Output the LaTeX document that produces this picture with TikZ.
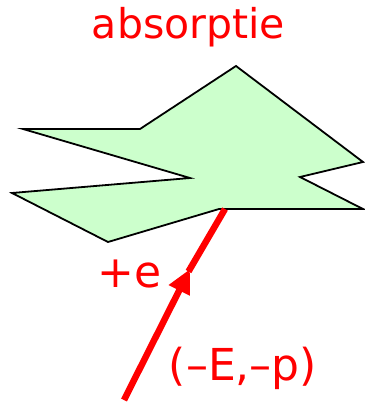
\documentclass[tikz,border=0pt]{standalone}
\usepackage{fontspec}
\setmainfont{DejaVu Sans}
\usepackage{xcolor}
\usetikzlibrary{arrows.meta}
\definecolor{blobgreen}{RGB}{204,255,204}
\tikzset{
  blob/.style={line width=1.8pt,draw=black,fill=blobgreen},
  track/.style={line width=6.5pt,draw=red},
  trackarrow/.style={-{Triangle[length=24pt,width=22pt]},line width=6.5pt,draw=red},
  redlabel/.style={text=red,inner sep=0pt,anchor=base}
}

\begin{document}
\begin{tikzpicture}[x=1pt,y=-1pt]
  \useasboundingbox (0,0) rectangle (364,403);
  % absorbing blob
  \draw[blob] (236,66)--(363,162)--(300,177)--(363,209)--(219,209)--(108,242)
    --(12,193)--(190,178)--(23,129)--(140,129)--cycle;
  % incoming positron line
  \coordinate (src) at (124,400);
  \coordinate (tip) at (190,269);
  \coordinate (gap) at (188.5,271.5);
  \coordinate (hit) at (225,209);
  \draw[trackarrow] (src)--(tip);
  \draw[track] (gap)--(hit);
  \node[redlabel,font=\fontsize{41}{48}\selectfont] (title) at (188.5,39) {absorptie};
  \node[redlabel,font=\fontsize{44}{52}\selectfont] (charge) at (129.5,287) {+e};
  \node[redlabel,font=\fontsize{44}{52}\selectfont] (qnum) at (243,380) {(–E,–p)};
\end{tikzpicture}
\end{document}
